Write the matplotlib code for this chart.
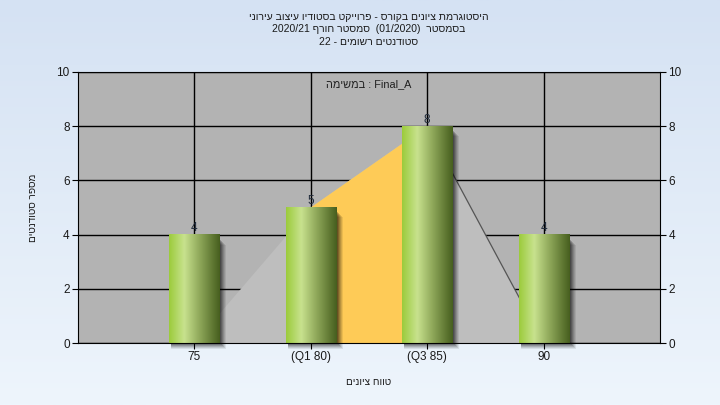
import numpy as np
import matplotlib
matplotlib.use("Agg")
import matplotlib.pyplot as plt
from matplotlib.colors import LinearSegmentedColormap
from matplotlib.patches import Rectangle, Polygon

plt.rcParams["font.family"] = ["Liberation Sans", "DejaVu Sans"]

# data
categories = ["75", "(Q1 80)", "(Q3 85)", "90"]
counts = [4, 5, 8, 4]
curve = [0, 5, 8, 0]
title_lines = ["היסטוגרמת ציונים בקורס - פרוייקט בסטודיו עיצוב עירוני",
               "בסמסטר  (01/2020)  סמסטר חורף 2020/21",
               "סטודנטים רשומים - 22"]
note = "Final_A : במשימה"
xlabel = "טווח ציונים"
ylabel = "מספר סטודנטים"


def rtl(s):
    # crude visual ordering for right-to-left lines
    def heb(w):
        return any("\u0590" <= c <= "\u05ff" for c in w)
    words = s.split(" ")
    return " ".join(w[::-1] if heb(w) else w for w in reversed(words))


fig = plt.figure(figsize=(7.2, 4.05), dpi=100)

# background gradient
bg = fig.add_axes([0, 0, 1, 1], zorder=-10)
grad = np.linspace(0, 1, 256).reshape(-1, 1)
bg_cmap = LinearSegmentedColormap.from_list("bg", ["#D5E2F3", "#EEF5FC"])
bg.imshow(grad, cmap=bg_cmap, aspect="auto", extent=(0, 1, 0, 1))
bg.axis("off")

ax = fig.add_axes([78 / 720, 1 - 343 / 405, 582 / 720, 271 / 405])
ax.set_facecolor("#B3B3B3")
x = np.arange(1, len(categories) + 1)

ax.set_axisbelow(True)
ax.grid(True, color="black", linewidth=1, zorder=0)

# area behind bars
pts = [(x[0], 0)] + list(zip(x, curve)) + [(x[-1], 0)]
ax.add_patch(Polygon(pts, closed=True, facecolor="#BEBEBE", edgecolor="none", zorder=2))
ax.add_patch(Polygon([(x[1], 0), (x[1], curve[1]), (x[2], curve[2]), (x[2], 0)],
                     closed=True, facecolor="#FECB57", edgecolor="none", zorder=2.5))
ax.plot(x[2:4], curve[2:4], color="#555555", linewidth=0.9, zorder=2.6)

# bars with gradient and soft shadow
w = 0.43
bar_cmap = LinearSegmentedColormap.from_list(
    "bar", [(0, "#9BCB3B"), (0.3, "#C8E28E"), (0.6, "#8FA85A"), (1, "#465E1E")])
gx = np.linspace(0, 1, 256).reshape(1, -1)
px_x = 1 / 116.4
px_y = 1 / 27.1
for xi, v in zip(x, counts):
    for k, a in zip(range(6, 0, -1), [0.08, 0.1, 0.12, 0.15, 0.18, 0.2]):
        ax.add_patch(Rectangle((xi - w / 2 + 2 * px_x, -k * px_y), w + (k - 1) * px_x,
                               v - 4 * px_y, facecolor="black", alpha=a,
                               edgecolor="none", zorder=3, clip_on=False))
    ax.imshow(gx, cmap=bar_cmap, aspect="auto", extent=(xi - w / 2, xi + w / 2, 0, v),
              zorder=4, interpolation="bilinear")
    ax.text(xi, v + 0.02, str(v), ha="center", va="bottom", fontsize=8.5,
            color="#1F2A3A", zorder=5)

ax.text(3 - 0.5, 9.55, rtl(note), ha="center", va="center", fontsize=7.8,
        color="#202020", zorder=5)

ax.set_xlim(0, 5)
ax.set_ylim(0, 10)
ax.set_xticks(x)
ax.set_xticklabels(categories)
ax.set_yticks(range(0, 11, 2))
ax.tick_params(axis="both", direction="out", length=4, color="black",
               labelsize=8.5, labelcolor="#1A1A1A", pad=2)
for s in ax.spines.values():
    s.set_color("black")
    s.set_zorder(6)

ax2 = ax.twinx()
ax2.set_ylim(0, 10)
ax2.set_yticks(range(0, 11, 2))
ax2.tick_params(axis="y", direction="out", length=4, color="black",
                labelsize=8.5, labelcolor="#1A1A1A", pad=2)
for s in ax2.spines.values():
    s.set_visible(False)
ax.spines["right"].set_zorder(6)

ax.set_xlabel(rtl(xlabel), fontsize=7.2, color="#1A1A1A", labelpad=10)
ax.set_ylabel(rtl(ylabel), fontsize=7.2, color="#1A1A1A", labelpad=13)

for i, line in enumerate(title_lines):
    fig.text(369 / 720, 1 - (17 + 12.5 * i) / 405, rtl(line), ha="center",
             va="center", fontsize=7.5, color="#1A1A1A")

fig.savefig("out.png", dpi=100)
